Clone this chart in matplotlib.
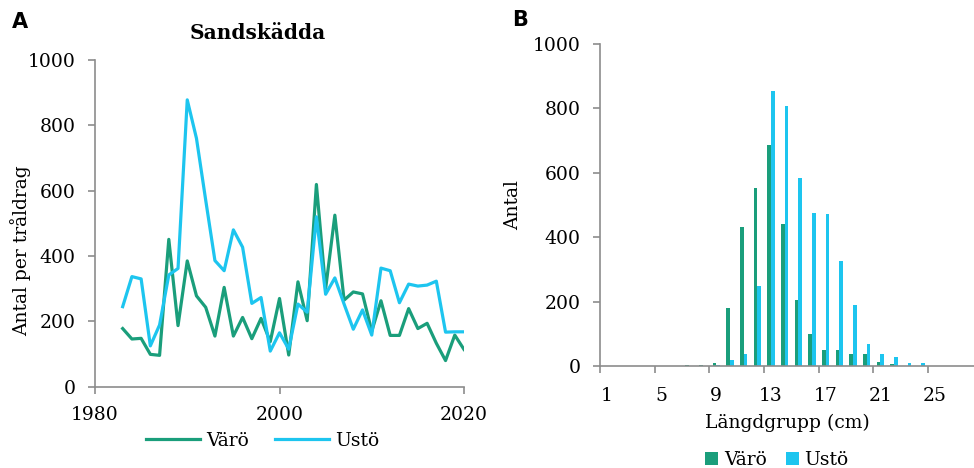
import matplotlib
matplotlib.use("Agg")
import matplotlib.pyplot as plt
import numpy as np

plt.rcParams['font.family'] = 'DejaVu Serif'

# Panel A: antal per tråldrag
years = list(range(1983, 2021))
varo_years = [178, 146, 148, 99, 96, 451, 187, 385, 278, 243,
              155, 304, 155, 212, 147, 209, 138, 270, 97, 321,
              202, 619, 300, 525, 265, 290, 284, 170, 263, 157,
              157, 239, 178, 194, 133, 80, 158, 114]
usto_years = [245, 337, 330, 125, 189, 342, 362, 878, 760, 571,
              386, 355, 480, 427, 255, 273, 109, 165, 115, 253,
              228, 520, 283, 333, 253, 176, 235, 158, 363, 355,
              257, 314, 308, 311, 323, 167, 168, 168]

# Panel B: längdfördelning
length_groups = list(range(1, 28))
varo_len = [0, 0, 0, 0, 0, 0, 5, 3, 11, 182, 433, 553, 687, 440, 206,
            100, 51, 50, 38, 38, 13, 7, 0, 0, 0, 0, 0]
usto_len = [0, 0, 0, 0, 0, 0, 0, 2, 5, 18, 39, 249, 854, 809, 584,
            476, 472, 326, 191, 70, 38, 28, 10, 10, 0, 0, 0]

green = '#1a9e7b'
blue = '#1dc5ef'
gray = '#8c8c8c'
fs = 13.5

fig = plt.figure(figsize=(9.74, 4.68), dpi=100)

# ---- A ----
ax1 = fig.add_axes([95/974, 1-386.7/468, 369/974, 326.7/468])
ax1.plot(years, varo_years, color=green, lw=2.3, label='Värö')
ax1.plot(years, usto_years, color=blue, lw=2.3, label='Ustö')
ax1.set_xlim(1980, 2020)
ax1.set_ylim(0, 1000)
ax1.set_xticks([1980, 2000, 2020])
ax1.set_yticks(range(0, 1001, 200))
ax1.set_ylabel('Antal per tråldrag', fontsize=fs)
ax1.yaxis.set_label_coords(-0.173, 0.415)
ax1.set_title('Sandskädda', fontsize=14.5, fontweight='bold', x=0.44, y=1.0, pad=15)
for s in ['top', 'right']:
    ax1.spines[s].set_visible(False)
for s in ['left', 'bottom']:
    ax1.spines[s].set_color(gray)
    ax1.spines[s].set_linewidth(1.2)
ax1.tick_params(colors=gray, labelcolor='black', labelsize=fs, length=5, width=1.2)
ax1.tick_params(axis='y', pad=9)
ax1.tick_params(axis='x', pad=9)
ax1.legend(loc='upper center', bbox_to_anchor=(0.454, -0.115), ncol=2, frameon=False,
           fontsize=fs, handlelength=2.9, handletextpad=0.3, columnspacing=1.4,
           borderaxespad=0)

# ---- B ----
ax2 = fig.add_axes([600/974, 1-366.3/468, 374/974, 322.3/468])
x = np.array(length_groups)
w = 0.27
ax2.bar(x - w/2, varo_len, width=w, color=green, label='Värö')
ax2.bar(x + w/2, usto_len, width=w, color=blue, label='Ustö')
ax2.set_xlim(0.5, 27.85)
ax2.set_ylim(0, 1000)
ax2.set_yticks(range(0, 1001, 200))
ax2.set_xticks(np.arange(0.5, 25, 4))
ax2.set_xticklabels([])
ax2.set_xticks(np.arange(1, 26, 4), minor=True)
ax2.set_xticklabels([str(v) for v in range(1, 26, 4)], minor=True)
ax2.tick_params(axis='x', which='minor', length=0, pad=15, labelsize=fs)
ax2.tick_params(axis='x', which='major', colors=gray, length=5, width=1.2)
ax2.tick_params(axis='y', colors=gray, labelcolor='black', labelsize=fs, length=5,
                width=1.2, pad=9)
ax2.set_xlabel('Längdgrupp (cm)', fontsize=fs, labelpad=6)
ax2.set_ylabel('Antal', fontsize=fs)
ax2.yaxis.set_label_coords(-0.209, 0.5)
for s in ['top', 'right']:
    ax2.spines[s].set_visible(False)
for s in ['left', 'bottom']:
    ax2.spines[s].set_color(gray)
    ax2.spines[s].set_linewidth(1.2)
ax2.legend(loc='upper center', bbox_to_anchor=(0.473, -0.262), ncol=2, frameon=False,
           fontsize=fs, handlelength=0.7, handleheight=0.7, handletextpad=0.3,
           columnspacing=1.0, borderaxespad=0, borderpad=0)

fig.text(12/974, 1-22/468, 'A', fontsize=15, fontweight='bold', family='DejaVu Sans', va='center')
fig.text(512/974, 1-20/468, 'B', fontsize=15, fontweight='bold', family='DejaVu Sans', va='center')

fig.savefig('out.png', dpi=100)
